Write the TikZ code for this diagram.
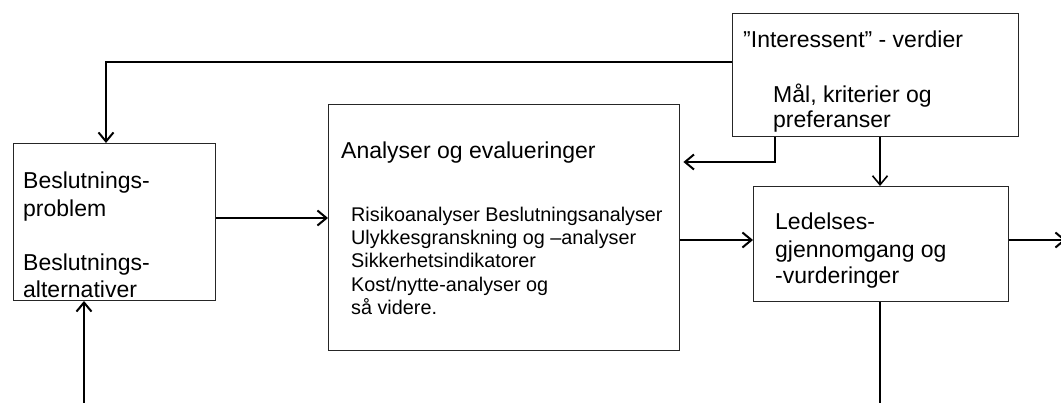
\documentclass[tikz,border=0pt]{standalone}
\usepackage{fontspec}
\setmainfont{Liberation Sans}
\usetikzlibrary{arrows.meta}
\begin{document}
\begin{tikzpicture}[x=1pt,y=-1pt,
  box/.style={draw=black!85,line width=1pt,rectangle,inner sep=0pt,anchor=north west},
  big/.style={font=\fontsize{23}{27}\selectfont,anchor=base west,inner sep=0pt},
  small/.style={font=\fontsize{19.8}{23}\selectfont,anchor=base west,inner sep=0pt},
  arr/.style={line width=2.2pt,-{Straight Barb[length=9pt,width=15pt,line width=2pt]}},
  thinarr/.style={line width=1.3pt,-{Straight Barb[length=9pt,width=15pt,line width=1.6pt]}},
  thin/.style={line width=1.2pt}]
\useasboundingbox (0,0) rectangle (1061,403);

% boxes
\node[box,minimum width=202pt,minimum height=157pt] (A) at (13,143) {};
\node[box,line width=1.4pt,minimum width=351pt,minimum height=246pt] (B) at (328,104) {};
\node[box,minimum width=286pt,minimum height=123pt] (C) at (732,13) {};
\node[box,minimum width=255pt,minimum height=115pt] (D) at (753,186) {};

% box texts
\node[big] (a1) at (23,189) {Beslutnings-};
\node[big] (a2) at (23,217) {problem};
\node[big] (a3) at (23,271) {Beslutnings-};
\node[big] (a4) at (23,298) {alternativer};

\node[big] (b0) at (341,159) {Analyser og evalueringer};
\node[small] (b1) at (351,222) {Risikoanalyser Beslutningsanalyser};
\node[small] (b2) at (351,245) {Ulykkesgranskning og –analyser};
\node[small] (b3) at (351,268) {Sikkerhetsindikatorer};
\node[small] (b4) at (351,292) {Kost/nytte-analyser og};
\node[small] (b5) at (351,315) {så videre.};

\node[big] (c1) at (743,48) {”Interessent” - verdier};
\node[big] (c2) at (773,103) {Mål, kriterier og};
\node[big] (c3) at (773,128) {preferanser};

\node[big] (d1) at (775,230) {Ledelses-};
\node[big] (d2) at (775,258) {gjennomgang og};
\node[big] (d3) at (775,284) {-vurderinger};

% helper coordinates for connector routing
\coordinate (loopY) at (0,62);
\coordinate (loopX) at (106,0);
\coordinate (inX) at (84,0);
\coordinate (bottom) at (0,403);
\coordinate (abY) at (0,218);
\coordinate (cbX) at (775,0);
\coordinate (cbY) at (0,162);
\coordinate (cdX) at (880,0);
\coordinate (bdY) at (0,240);
\coordinate (outEnd) at (1066,240);

% connectors
\draw[arr] (C.west |- loopY) -| (A.north -| loopX);
\draw[arr] (inX |- bottom) -- (A.south -| inX);
\draw[arr] (A.east |- abY) -- (B.west |- abY);
\draw[arr,shorten >=3pt] (C.south -| cbX) |- (B.east |- cbY);
\draw[thinarr] (C.south -| cdX) -- (D.north -| cdX);
\draw[arr] (B.east |- bdY) -- (D.west |- bdY);
\draw[arr] (D.east |- bdY) -- (outEnd);
\draw[thin] (D.south -| cdX) -- (cdX |- bottom);
\end{tikzpicture}
\end{document}
